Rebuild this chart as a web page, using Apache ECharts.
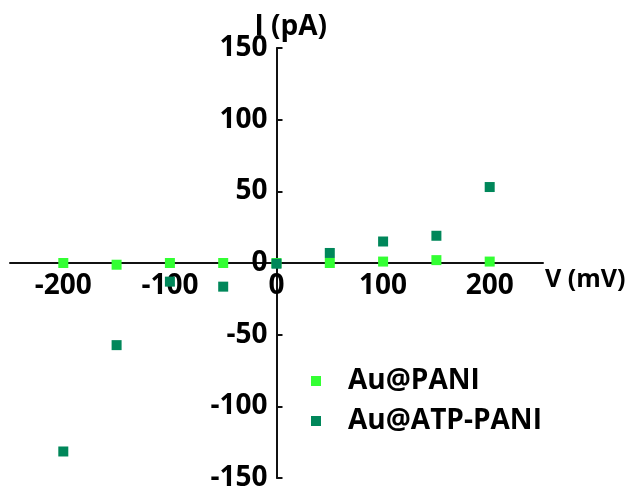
<!DOCTYPE html>
<html><head><meta charset="utf-8">
<script src="https://cdn.jsdelivr.net/npm/echarts@6/dist/echarts.min.js"></script>
<style>html,body{margin:0;padding:0;background:#fff}#c{width:632px;height:491px}</style>
</head><body><div id="c"></div>
<script>
var voltages = [-200, -150, -100, -50, 0, 50, 100, 150, 200];
var auPani = [0, -1.2, 0, 0, 0, 0, 1, 2, 1];
var auAtpPani = [-131.5, -57.3, -13, -16.5, -0.5, 7, 15, 19, 53];
var xTickLabels = [-200, -100, 0, 100, 200];
var xTickMarks = [-200, -100, 100, 200];

function pairs(xs, ys){ return xs.map(function(x,i){ return [x, ys[i]]; }); }
var font = '"Open Sans", sans-serif';
var W = 632, H = 491, gl = 10, gr = 89, gt = 48, gb = 13;
var gw = W - gl - gr, gh = H - gt - gb;
var chart = echarts.init(document.getElementById('c'));
chart.setOption({
  animation: false,
  grid: { left: gl, right: gr, top: gt, bottom: gb, containLabel: false, outerBoundsMode: 'none' },
  xAxis: {
    type: 'value', min: -250, max: 250, position: 'bottom', offset: -gh / 2,
    axisLine: { onZero: false, lineStyle: { color: '#111', width: 2 } },
    axisTick: { show: true, inside: true, length: 5, customValues: xTickMarks, lineStyle: { color: '#111', width: 2 } },
    axisLabel: { customValues: xTickLabels, margin: 9, color: '#000', fontFamily: font, fontWeight: 'bold', fontSize: 28 },
    splitLine: { show: false },
    name: '\nV (mV)', nameLocation: 'end', nameGap: 2, nameMoveOverlap: false,
    nameTextStyle: { color: '#000', fontFamily: font, fontWeight: 'bold', fontSize: 25, lineHeight: 34, align: 'left' }
  },
  yAxis: {
    type: 'value', min: -150, max: 150, interval: 50, position: 'left', offset: -gw / 2,
    axisLine: { onZero: false, lineStyle: { color: '#111', width: 2 } },
    axisTick: { show: true, inside: true, length: 6, lineStyle: { color: '#111', width: 2 } },
    axisLabel: { margin: 9, color: '#000', fontFamily: font, fontWeight: 'bold', fontSize: 28 },
    splitLine: { show: false },
    name: 'I (pA)', nameLocation: 'end', nameGap: 7, nameMoveOverlap: false,
    nameTextStyle: { color: '#000', fontFamily: font, fontWeight: 'bold', fontSize: 28, align: 'left', padding: [0, 0, 0, -22] }
  },
  legend: {
    orient: 'vertical', left: 306, top: 362, itemGap: 12,
    icon: 'rect', itemWidth: 10, itemHeight: 10,
    textStyle: { color: '#000', fontFamily: font, fontWeight: 'bold', fontSize: 28, padding: [0, 0, 0, 22] },
    data: ['Au@PANI', 'Au@ATP-PANI']
  },
  series: [
    { name: 'Au@PANI', type: 'scatter', symbol: 'rect', symbolSize: 10, itemStyle: { color: '#33ff33', opacity: 1 }, data: pairs(voltages, auPani), z: 3 },
    { name: 'Au@ATP-PANI', type: 'scatter', symbol: 'rect', symbolSize: 10, itemStyle: { color: '#00875a', opacity: 1 }, data: pairs(voltages, auAtpPani), z: 4 }
  ]
});
</script></body></html>
